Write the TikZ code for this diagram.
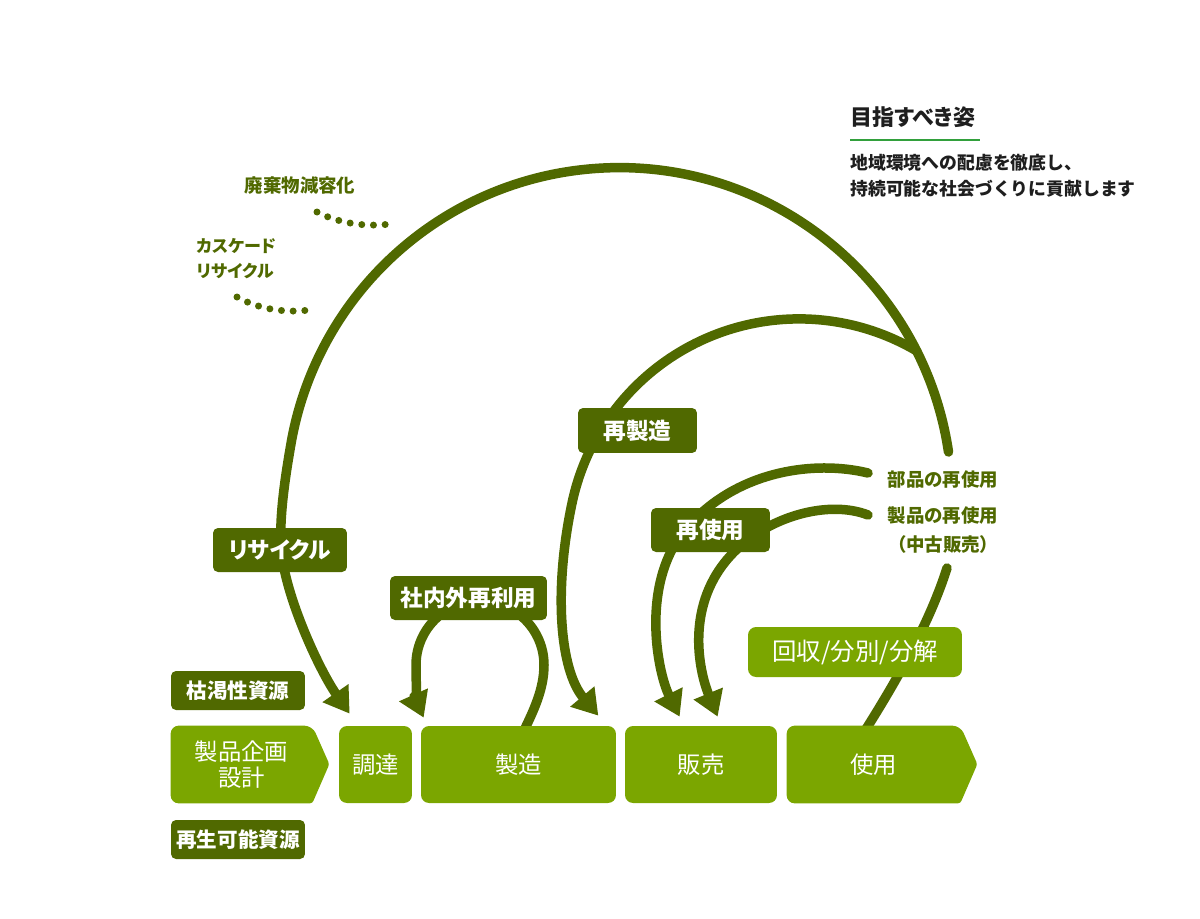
\documentclass[tikz,border=0pt]{standalone}
\usepackage{fontspec}
\newfontfamily\jp[RawFeature=+palt]{Noto Sans CJK JP}
\newfontfamily\jpf{Noto Sans CJK JP}
\usetikzlibrary{arrows.meta,calc}
\definecolor{dk}{RGB}{80,105,0}
\definecolor{lg}{RGB}{123,166,0}
\definecolor{ul}{RGB}{50,160,60}
\definecolor{tx}{RGB}{30,30,30}
\pgfdeclarelayer{lines}
\pgfdeclarelayer{shapes}
\pgfsetlayers{lines,shapes,main}
\tikzset{
 conn/.style={draw=dk, line width=0.19cm, line cap=round},
 arr/.style={conn, -{Triangle[width=0.6cm,length=0.5cm]}},
 stepbox/.style={fill=lg, rounded corners=0.16cm, text=white, inner sep=0pt, minimum height=1.54cm, font=\jp\fontsize{13.3}{14.8}\selectfont, align=center},
 tag/.style={fill=dk, rounded corners=0.1cm, text=white, inner sep=0pt, minimum height=0.88cm, font=\jp\bfseries\fontsize{12.9}{15}\selectfont},
 restag/.style={tag, minimum height=0.78cm, minimum width=2.68cm, font=\jp\bfseries\fontsize{11.7}{14}\selectfont},
 note/.style={text=dk, font=\jp\bfseries\fontsize{10.5}{16}\selectfont, inner sep=0pt},
 dots/.style={draw=dk, line width=0.14cm, line cap=round, dash pattern=on 0pt off 0.234cm},
}
\begin{document}
\begin{tikzpicture}[x=0.02cm,y=-0.02cm]
\useasboundingbox (0,0) rectangle (1200,919);

% process steps
\node[stepbox, fill=none, minimum width=2.82cm] (plan) at (241.5,764.5) {製品企画\\設計};
\node[stepbox, minimum width=1.46cm] (proc) at (375.5,764.5) {調達};
\node[stepbox, minimum width=3.9cm] (manu) at (518.5,764.5) {製造};
\node[stepbox, minimum width=3.04cm] (sale) at (701,764.5) {販売};
\node[stepbox, fill=none, minimum width=3.46cm] (use) at (873.5,764.5) {使用};
\node[stepbox, minimum width=4.28cm, minimum height=1.0cm, font=\jp\fontsize{13.9}{15}\selectfont] (coll) at (855,652) {回収/分別/分解};

\begin{pgfonlayer}{shapes}
\fill[lg] [rounded corners=0.05cm] (plan.north east) -- ++(17,38.5) -- (plan.south east) [rounded corners=0.16cm] -- (plan.south west) -- (plan.north west) -- cycle;
\fill[lg] [rounded corners=0.05cm] (use.north east) -- ++(17,38.5) -- (use.south east) [rounded corners=0.16cm] -- (use.south west) -- (use.north west) -- cycle;
\end{pgfonlayer}

% tags
\node[tag, minimum width=2.68cm] (rcy) at (280,550) {リサイクル};
\node[tag, minimum width=3.14cm] (inh) at (468.5,598) {社内外再利用};
\node[tag, minimum width=2.38cm, minimum height=0.9cm] (rem) at (637.5,430.5) {再製造};
\node[tag, minimum width=2.38cm] (reu) at (710.5,530) {再使用};
\node[restag] (exh) at (238,690.5) {枯渇性資源};
\node[restag] (ren) at (238,839.5) {再生可能資源};

% notes
\node[note] (parts) at (943,480) {部品の再使用};
\node[note, align=center] (prod) at (943,530) {製品の再使用\\（中古販売）};
\node[note] (waste) at (300,186) {廃棄物減容化};
\node[note, align=left, anchor=west, font=\jp\bfseries\fontsize{9.7}{14.2}\selectfont] (casc) at (196,258.5) {カスケード\\リサイクル};

% goal
\node[anchor=west, inner sep=0pt, text=tx, font=\jp\bfseries\fontsize{12.5}{15}\selectfont] (goal) at (850,117) {目指すべき姿};
\draw[ul, line width=0.06cm] (850,140) -- (980,140);
\node[anchor=west, align=left, inner sep=0pt, text=tx, font=\jpf\bfseries\fontsize{10.15}{14.8}\selectfont] (msg) at (850,176) {地域環境への配慮を徹底し、\\持続可能な社会づくりに貢献します};

\begin{pgfonlayer}{lines}
\coordinate (bigS) at (948.5,452);
\coordinate (junc) at (916.8,351);
\coordinate (rcyT) at ([xshift=0.22cm,yshift=0.24cm]proc.north west);
\coordinate (remT) at ([xshift=-0.36cm,yshift=0.2cm]manu.north east);
\coordinate (loopS) at ([xshift=0.06cm,yshift=-0.2cm]manu.north);
\coordinate (loopT) at ([xshift=0.06cm,yshift=0.16cm]manu.north west);
\coordinate (pS) at (868,473);
\coordinate (qS) at (868,515);
\coordinate (r1T) at ([xshift=1.1cm,yshift=0.18cm]sale.north west);
\coordinate (r2T) at ([xshift=1.86cm,yshift=0.18cm]sale.north west);
\coordinate (lowS) at ([xshift=-0.17cm,yshift=-0.1cm]use.north);
\coordinate (lowE) at (947,568);

% recycling (big arc)
\draw[arr] (bigS) arc[start angle=-8.4, end angle=-170, radius=333]
  .. controls (285.1,477.3) and (279.5,515) .. (281,545)
  .. controls (282.5,590) and (318,668) .. (rcyT);
% remanufacturing
\draw[arr] (junc) arc[start angle=-59.5, end angle=-168, radius=232]
  .. controls (553.3,591) and (560,670) .. (remT);
% in-house reuse loop
\draw[arr] (loopS) .. controls (533,712) and (544,690) .. (544,665)
  arc[start angle=0, end angle=-180, radius=64]
  .. controls (416,690) and (418,705) .. (loopT);
% reuse of parts
\draw[arr] (pS) .. controls (815,460) and (735,470) .. (685,530)
  .. controls (640,584) and (657.5,672.4) .. (r1T);
% reuse of products
\draw[arr] (qS) .. controls (830,500) and (770,515) .. (733,553)
  .. controls (684,603.4) and (699,671) .. (r2T);
% from use upward
\draw[conn] (lowS) .. controls (897,680) and (930,622) .. (lowE);

% dotted leaders
\draw[dots] (317,212) .. controls (340,224) and (370,228) .. (396,223);
\draw[dots] (237,297) .. controls (260,310) and (290,314) .. (315,309);
\end{pgfonlayer}
\end{tikzpicture}
\end{document}
